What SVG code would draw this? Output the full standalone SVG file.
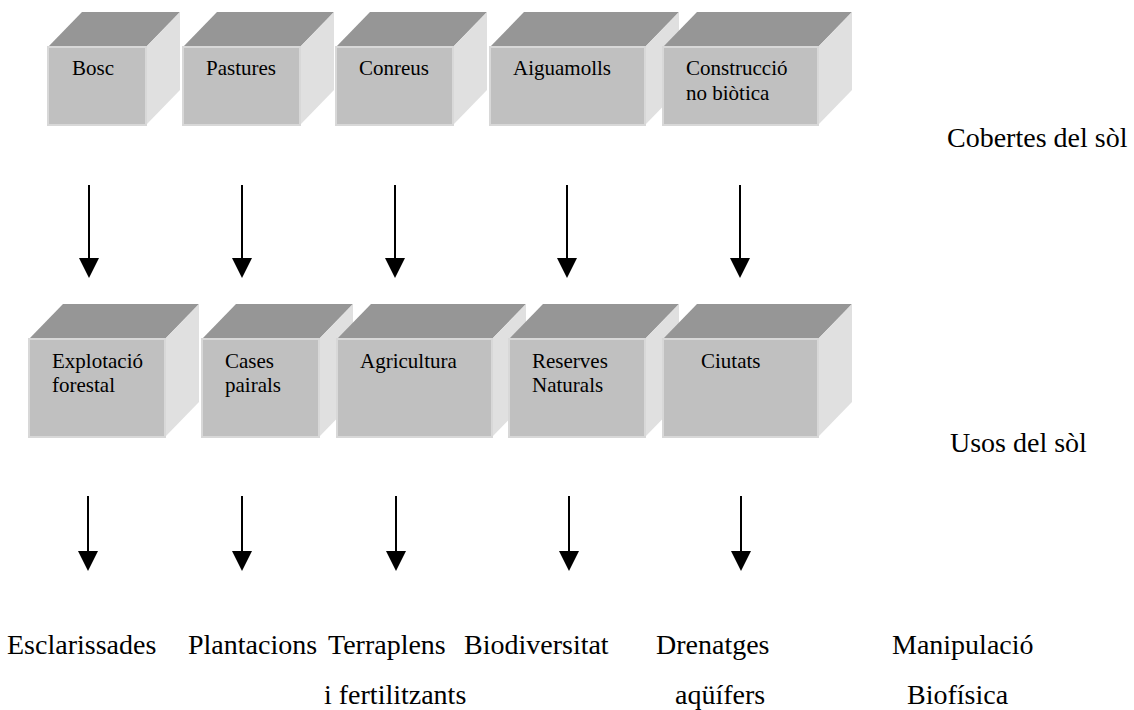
<svg xmlns="http://www.w3.org/2000/svg" width="1134" height="710" viewBox="0 0 1134 710">
<style>
.front{fill:#c0c0c0;stroke:#d8d8d8;stroke-width:2}
.top{fill:#969696}
.side{fill:#e0e0e0}
.lbl{font-family:"Liberation Serif","Times New Roman",serif;font-size:21px;fill:#000}
.big{font-family:"Liberation Serif","Times New Roman",serif;font-size:28px;fill:#000}
.arr{stroke:#000;stroke-width:2;fill:none;marker-end:url(#ah)}
</style>
<defs>
<marker id="ah" viewBox="0 0 20 20" refX="0" refY="10" markerWidth="20" markerHeight="20" markerUnits="userSpaceOnUse" orient="auto">
<path d="M0,0 L20,10 L0,20 z" fill="#000"/>
</marker>
</defs>
<rect width="1134" height="710" fill="#fff"/>

<!-- Row 1: Cobertes -->
<g id="bosc">
<polygon class="top" points="48,47 82,12 180,12 146,47"/>
<polygon class="side" points="146,47 180,12 180,90 146,125"/>
<rect class="front" x="48" y="47" width="98" height="78"/>
<text class="lbl" x="72" y="75">Bosc</text>
</g>
<g id="pastures">
<polygon class="top" points="183,47 217,12 334,12 300,47"/>
<polygon class="side" points="300,47 334,12 334,90 300,125"/>
<rect class="front" x="183" y="47" width="117" height="78"/>
<text class="lbl" x="206" y="75">Pastures</text>
</g>
<g id="conreus">
<polygon class="top" points="336,47 370,12 487,12 453,47"/>
<polygon class="side" points="453,47 487,12 487,90 453,125"/>
<rect class="front" x="336" y="47" width="117" height="78"/>
<text class="lbl" x="359" y="75">Conreus</text>
</g>
<g id="aiguamolls">
<polygon class="top" points="490,47 524,12 679,12 645,47"/>
<polygon class="side" points="645,47 679,12 679,90 645,125"/>
<rect class="front" x="490" y="47" width="155" height="78"/>
<text class="lbl" x="513" y="75">Aiguamolls</text>
</g>
<g id="construccio">
<polygon class="top" points="663,47 697,12 852,12 818,47"/>
<polygon class="side" points="818,47 852,12 852,90 818,125"/>
<rect class="front" x="663" y="47" width="155" height="78"/>
<text class="lbl" x="686" y="75">Construcció</text>
<text class="lbl" x="686" y="100">no biòtica</text>
</g>
<g id="cobertes-label">
<text class="big" x="947" y="147">Cobertes del sòl</text>
</g>

<!-- Row 2: Usos -->
<g id="explotacio">
<polygon class="top" points="29,339 63,304 199,304 165,339"/>
<polygon class="side" points="165,339 199,304 199,402 165,437"/>
<rect class="front" x="29" y="339" width="136" height="98"/>
<text class="lbl" x="52" y="368">Explotació</text>
<text class="lbl" x="52" y="392">forestal</text>
</g>
<g id="cases">
<polygon class="top" points="202,339 236,304 353,304 319,339"/>
<polygon class="side" points="319,339 353,304 353,402 319,437"/>
<rect class="front" x="202" y="339" width="117" height="98"/>
<text class="lbl" x="225" y="368">Cases</text>
<text class="lbl" x="225" y="392">pairals</text>
</g>
<g id="agricultura">
<polygon class="top" points="337,339 371,304 526,304 492,339"/>
<polygon class="side" points="492,339 526,304 526,402 492,437"/>
<rect class="front" x="337" y="339" width="155" height="98"/>
<text class="lbl" x="360" y="368">Agricultura</text>
</g>
<g id="reserves">
<polygon class="top" points="509,339 543,304 679,304 645,339"/>
<polygon class="side" points="645,339 679,304 679,402 645,437"/>
<rect class="front" x="509" y="339" width="136" height="98"/>
<text class="lbl" x="532" y="368">Reserves</text>
<text class="lbl" x="532" y="392">Naturals</text>
</g>
<g id="ciutats">
<polygon class="top" points="663,339 697,304 852,304 818,339"/>
<polygon class="side" points="818,339 852,304 852,402 818,437"/>
<rect class="front" x="663" y="339" width="155" height="98"/>
<text class="lbl" x="701" y="368">Ciutats</text>
</g>
<g id="usos-label">
<text class="big" x="950" y="452">Usos del sòl</text>
</g>

<!-- Row 3: Manipulació -->
<g id="esclarissades"><text class="big" x="7" y="654">Esclarissades</text></g>
<g id="plantacions"><text class="big" x="188" y="654">Plantacions</text></g>
<g id="terraplens"><text class="big" x="328" y="654">Terraplens</text><text class="big" x="324" y="704">i fertilitzants</text></g>
<g id="biodiversitat"><text class="big" x="464" y="654">Biodiversitat</text></g>
<g id="drenatges"><text class="big" x="656" y="654">Drenatges</text><text class="big" x="675" y="704">aqüífers</text></g>
<g id="manipulacio-label"><text class="big" x="892" y="654">Manipulació</text><text class="big" x="907" y="704">Biofísica</text></g>

<!-- Connectors -->
<g id="connectors">
<line class="arr" x1="89" y1="185" x2="89" y2="258"/>
<line class="arr" x1="242" y1="185" x2="242" y2="258"/>
<line class="arr" x1="395" y1="185" x2="395" y2="258"/>
<line class="arr" x1="567" y1="185" x2="567" y2="258"/>
<line class="arr" x1="740" y1="185" x2="740" y2="258"/>
<line class="arr" x1="88" y1="496" x2="88" y2="551"/>
<line class="arr" x1="242" y1="496" x2="242" y2="551"/>
<line class="arr" x1="396" y1="496" x2="396" y2="551"/>
<line class="arr" x1="569" y1="496" x2="569" y2="551"/>
<line class="arr" x1="741" y1="496" x2="741" y2="551"/>
</g>
</svg>
